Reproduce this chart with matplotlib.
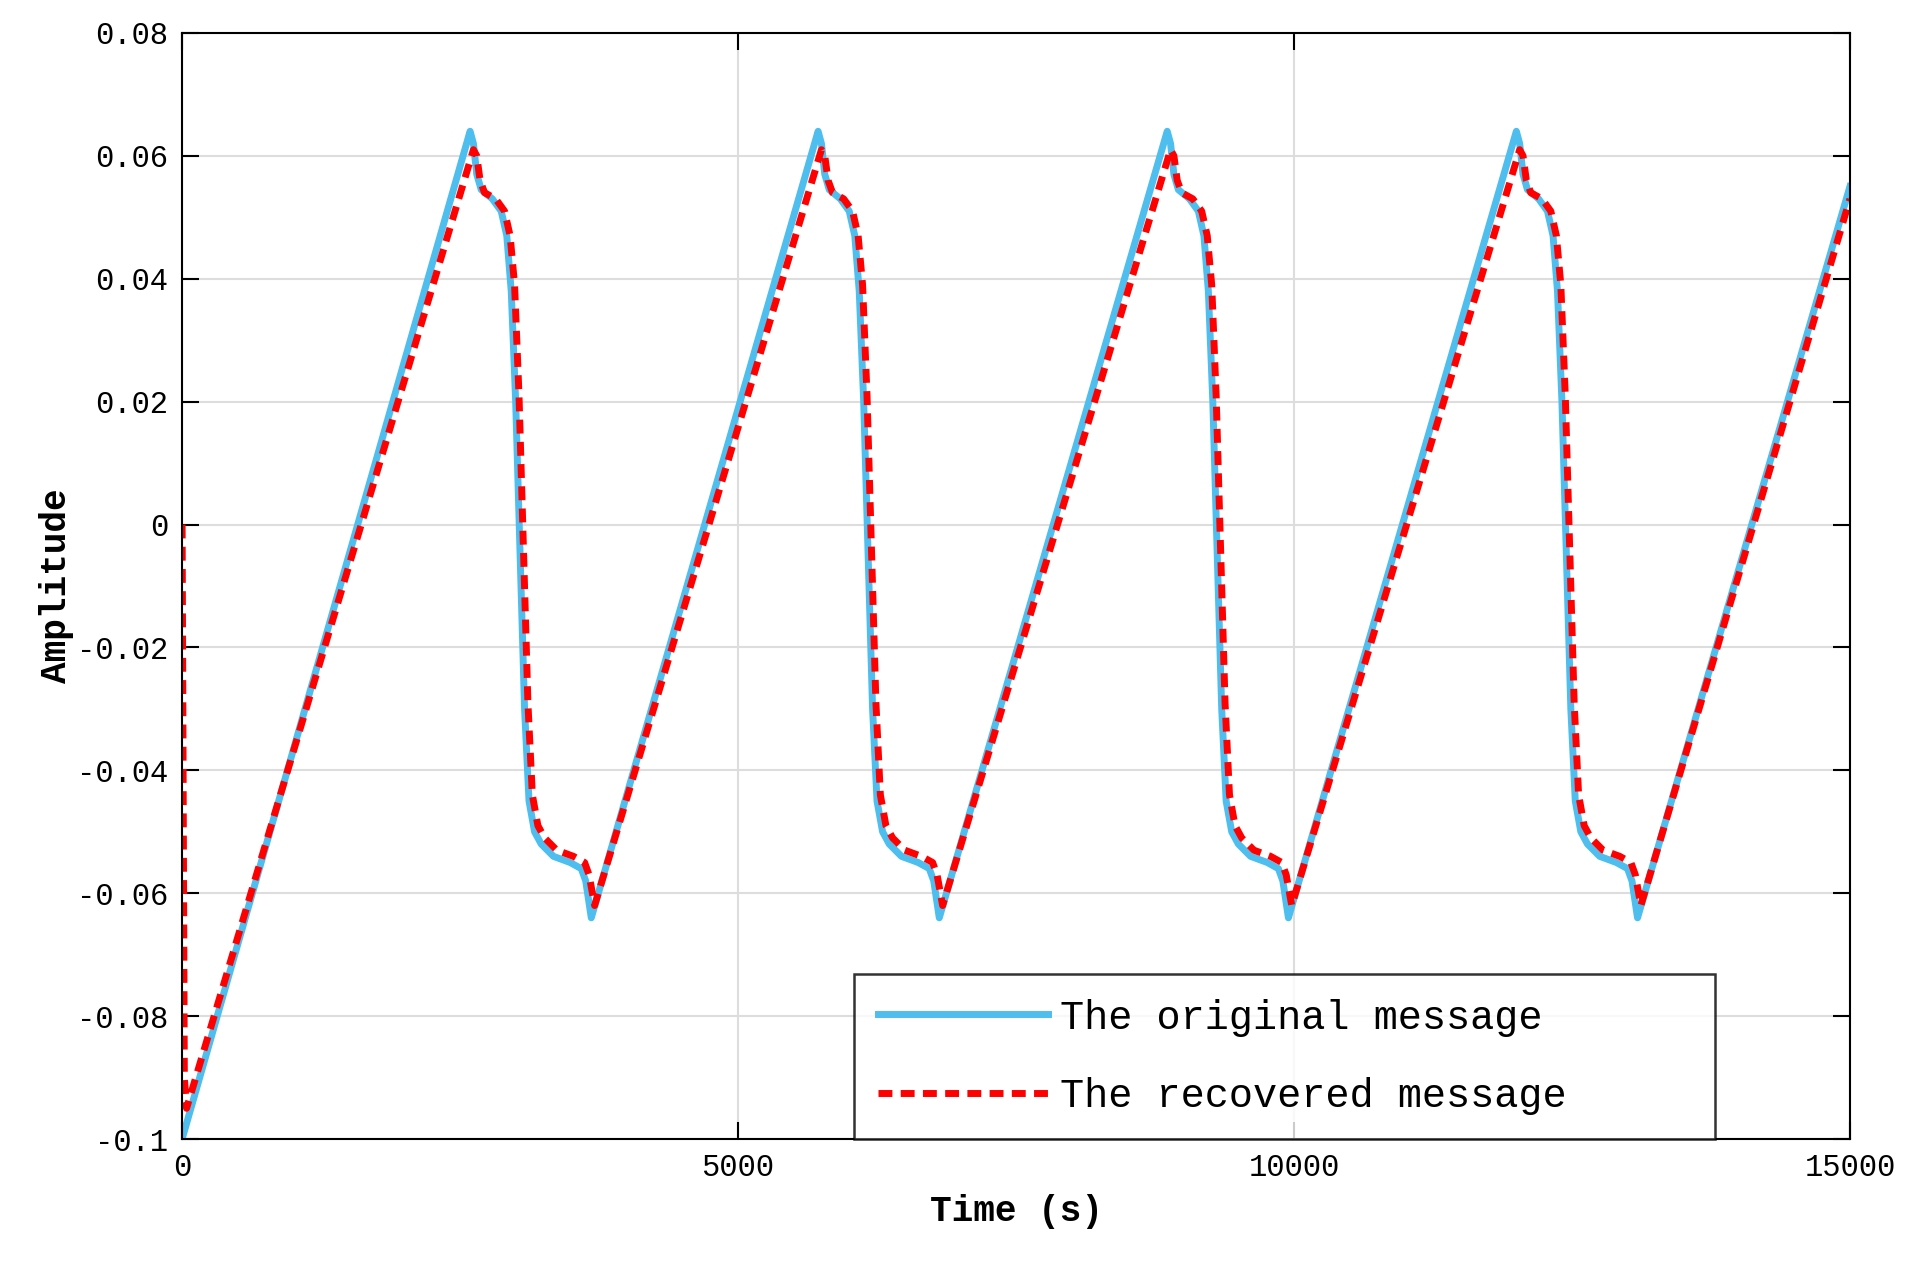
import numpy as np
import matplotlib.pyplot as plt

# peak times of each cycle (s)
peaks_orig = [2590, 5720, 8860, 12000]
peaks_rec = [2620, 5750, 8890, 12030]
# shape after each peak: (offset from peak, amplitude)
fall_off = [0, 30, 60, 100, 200, 280, 330, 370, 410, 450, 490, 530, 580, 640, 750, 900, 1000, 1040, 1090]
fall_orig = [0.064, 0.062, 0.057, 0.0545, 0.053, 0.051, 0.047, 0.038, 0.020, -0.005, -0.030, -0.045, -0.050, -0.052, -0.054, -0.055, -0.056, -0.058, -0.064]
fall_rec = [0.061, 0.060, 0.056, 0.054, 0.053, 0.051, 0.047, 0.039, 0.021, -0.004, -0.029, -0.044, -0.049, -0.051, -0.053, -0.054, -0.055, -0.057, -0.062]
start_orig = [(0, -0.1)]
start_rec = [(0, 0.0), (20, -0.09), (40, -0.095)]
end_orig = (15000, 0.055)
end_rec = (15000, 0.053)

def build(start, peaks, fall, end):
    t = [p[0] for p in start]
    y = [p[1] for p in start]
    for pk in peaks:
        t += [pk + o for o in fall_off]
        y += list(fall)
    t.append(end[0]); y.append(end[1])
    return np.array(t), np.array(y)

to, yo = build(start_orig, peaks_orig, fall_orig, end_orig)
tr, yr = build(start_rec, peaks_rec, fall_rec, end_rec)

plt.rcParams['font.family'] = ['Liberation Mono', 'DejaVu Sans Mono']
plt.rcParams['font.size'] = 22
fig = plt.figure(figsize=(19.17, 12.67), dpi=100)
ax = fig.add_axes([0.095, 0.101, 0.87, 0.873])
ax.plot(to, yo, color='#4DBEEE', lw=5, label='The original message')
ax.plot(tr, yr, color='red', lw=5, ls=(0, (2, 1.2)), label='The recovered message')
ax.set_xlim(0, 15000)
ax.set_ylim(-0.1, 0.08)
ax.set_xticks([0, 5000, 10000, 15000])
ax.set_yticks(np.arange(-0.1, 0.081, 0.02))
ax.set_yticklabels(['-0.1', '-0.08', '-0.06', '-0.04', '-0.02', '0', '0.02', '0.04', '0.06', '0.08'])
ax.grid(True, color='#dddddd', lw=1.5)
ax.tick_params(direction='in', length=12, width=1.5, top=True, right=True, pad=10)
for s in ax.spines.values():
    s.set_linewidth(1.5)
ax.set_xlabel('Time (s)', fontweight='bold', fontsize=26, labelpad=8)
ax.set_ylabel('Amplitude', fontweight='bold', fontsize=26, labelpad=2)
leg = ax.legend(loc='lower left', bbox_to_anchor=(0.403, 0.0, 0.516, 0.162), mode='expand',
                fancybox=False, edgecolor='black', fontsize=29, handlelength=4.2,
                borderaxespad=0, labelspacing=1.0, borderpad=0.6, handletextpad=0.3)
leg.get_frame().set_linewidth(1.8)
fig.savefig('out.png')
